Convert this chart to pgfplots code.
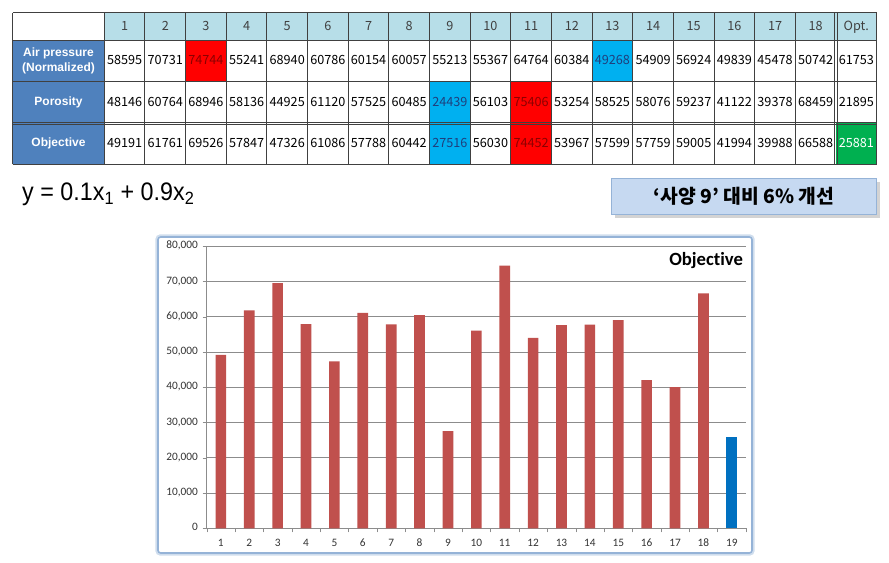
\documentclass[border=0pt]{standalone}
\usepackage{pgfplots}
\pgfplotsset{compat=1.18}
\usepackage{fontspec}
\setmainfont{Liberation Sans}
\newfontfamily\kr{Noto Sans CJK KR}
\newfontfamily\calib[Ligatures=NoCommon]{Carlito}
\usetikzlibrary{shadows}
\definecolor{hdr}{HTML}{B7DEE8}
\definecolor{lab}{HTML}{4F81BD}
\definecolor{hred}{HTML}{FF0000}
\definecolor{hblue}{HTML}{00B0F0}
\definecolor{hgreen}{HTML}{00B050}
\definecolor{tred}{HTML}{8B0000}
\definecolor{tblue}{HTML}{1F3F7D}
\definecolor{barred}{HTML}{C0504D}
\definecolor{barblue}{HTML}{0070C0}
\definecolor{frame}{HTML}{95B3D7}
\definecolor{boxfill}{HTML}{C6D9F1}
\definecolor{gline}{HTML}{404040}
\newcommand\cw{40.65}
\newcommand\xz{104.3}
\newcommand\cell[4]{\fill[#4] ({\xz+(#1-1)*\cw},#2) rectangle ({\xz+#1*\cw},#3);}
\begin{document}
\begin{tikzpicture}[x=0.75pt,y=0.75pt]
\path (0,0) rectangle (889,563);
% ---------- table ----------
\fill[hdr] (\xz,522.3) rectangle (876.7,550.3);
\fill[lab] (12.7,398.7) rectangle (\xz,522.3);
\cell{3}{481.3}{522.3}{hred}
\cell{13}{481.3}{522.3}{hblue}
\cell{9}{439.7}{481.3}{hblue}
\cell{11}{439.7}{481.3}{hred}
\cell{9}{398.7}{439.7}{hblue}
\cell{11}{398.7}{439.7}{hred}
\cell{19}{398.7}{439.7}{hgreen}
\begin{scope}[draw=gline,line width=0.75pt]
\foreach \yy in {550.3,522.3,481.3,398.7} \draw (12.7,\yy) -- (876.7,\yy);
\draw (12.7,440.9) -- (876.7,440.9);
\draw (12.7,438.5) -- (876.7,438.5);
\draw (12.7,398.7) -- (12.7,550.3);
\foreach \k in {0,...,17,19} \draw ({\xz+\k*\cw},398.7) -- ({\xz+\k*\cw},550.3);
\draw ({\xz+18*\cw-1.2},398.7) -- ({\xz+18*\cw-1.2},550.3);
\draw ({\xz+18*\cw+1.2},398.7) -- ({\xz+18*\cw+1.2},550.3);
\end{scope}
\begin{scope}[font=\kr\fontsize{9.5}{11}\selectfont, every node/.style={text height=7pt, text depth=1.5pt}]
\foreach \v [count=\i] in {1,2,3,4,5,6,7,8,9,10,11,12,13,14,15,16,17,18,Opt.}
  \node[text=black!75] at ({\xz+(\i-0.5)*\cw},536.3) {\v};
\foreach \v/\c [count=\i] in {58595/black,70731/black,74744/tred,55241/black,68940/black,60786/black,60154/black,60057/black,55213/black,55367/black,64764/black,60384/black,49268/tblue,54909/black,56924/black,49839/black,45478/black,50742/black,61753/black}
  \node[text=\c] at ({\xz+(\i-0.5)*\cw},501.8) {\v};
\foreach \v/\c [count=\i] in {48146/black,60764/black,68946/black,58136/black,44925/black,61120/black,57525/black,60485/black,24439/tblue,56103/black,75406/tred,53254/black,58525/black,58076/black,59237/black,41122/black,39378/black,68459/black,21895/black}
  \node[text=\c] at ({\xz+(\i-0.5)*\cw},460.5) {\v};
\foreach \v/\c [count=\i] in {49191/black,61761/black,69526/black,57847/black,47326/black,61086/black,57788/black,60442/black,27516/tblue,56030/black,74452/tred,53967/black,57599/black,57759/black,59005/black,41994/black,39988/black,66588/black,25881/white}
  \node[text=\c] at ({\xz+(\i-0.5)*\cw},419.2) {\v};
\end{scope}
\begin{scope}[font=\bfseries\fontsize{9}{11}\selectfont, text=white]
\node[align=center] at (58.5,501.8) {Air pressure\\(Normalized)};
\node at (58.5,460.5) {Porosity};
\node at (58.5,419.2) {Objective};
\end{scope}
% ---------- formula and note ----------
\node[anchor=west, inner sep=0pt, xscale=0.92, font=\fontsize{19}{21}\selectfont] at (22,369) {y = 0.1x\textsubscript{1} + 0.9x\textsubscript{2}};
\node[draw=frame, line width=1pt, fill=boxfill, drop shadow={opacity=0.35}, minimum width=199pt, minimum height=27pt, font=\kr\bfseries\fontsize{14.5}{16}\selectfont] at (744,366.5) {‘사양 9’ 대비 6\% 개선};
% ---------- chart frame ----------
\draw[frame!45, line width=4pt, rounded corners=2pt] (158,10) rectangle (752,326);
\draw[frame, line width=1.2pt, fill=white, rounded corners=2pt] (158,10) rectangle (752,326);
\begin{axis}[
  at={(155pt,26pt)}, anchor=south west, scale only axis,
  width=404.5pt, height=211.7pt,
  xmin=0.5, xmax=19.5, ymin=0, ymax=80000,
  ytick={0,10000,...,80000},
  xtick={1,...,19},
  minor xtick={0.5,1.5,...,19.5},
  axis x line*=bottom, axis y line*=left,
  axis line style={draw=black!45, -},
  ymajorgrids, grid style={draw=black!45, line width=0.5pt},
  major x tick style={draw=none},
  minor x tick style={draw=black!45},
  ytick style={draw=black!45},
  tick align=outside, major tick length=3pt, minor tick length=3pt,
  tick label style={font=\calib\fontsize{8.5}{10}\selectfont, text=black!80},
  typeset ticklabels with strut,
  scaled y ticks=false,
  yticklabel style={/pgf/number format/.cd, fixed, 1000 sep={,}, assume math mode=true},
  xticklabel style={/pgf/number format/assume math mode=true},
  ybar, bar width=8pt,
  clip=false,
]
\addplot[fill=barred, draw=none, bar shift=0pt] coordinates {
(1,49191) (2,61761) (3,69526) (4,57847) (5,47326) (6,61086) (7,57788) (8,60442) (9,27516)
(10,56030) (11,74452) (12,53967) (13,57599) (14,57759) (15,59005) (16,41994) (17,39988) (18,66588)};
\addplot[fill=barblue, draw=none, bar shift=0pt] coordinates {(19,25881)};
\node[anchor=east, inner sep=0pt, font=\calib\bfseries\fontsize{14}{16}\selectfont] at (rel axis cs:0.995,0.947) {Objective};
\end{axis}
\end{tikzpicture}
\end{document}
